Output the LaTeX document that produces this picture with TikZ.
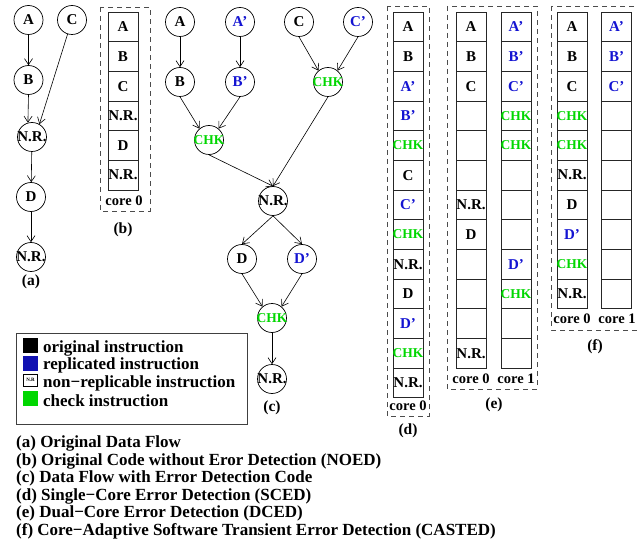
\documentclass[tikz,border=0pt]{standalone}
\usepackage{fontspec}
\setmainfont{Liberation Serif}
\usetikzlibrary{arrows.meta}
\definecolor{rblue}{RGB}{20,20,210}
\definecolor{cgreen}{RGB}{0,215,0}
\newcommand{\Bl}[1]{\textcolor{rblue}{#1}}
\newcommand{\Ck}{\makebox[0pt]{\fontsize{13.5}{15}\selectfont\textcolor{cgreen}{CHK}}}
\newcommand{\NR}{\makebox[0pt]{N.R.}}
\newcommand{\Em}{\mbox{}}
\begin{document}
\begin{tikzpicture}[x=1pt,y=-1pt,
  font=\bfseries\fontsize{15}{17}\selectfont,
  circ/.style={circle,draw,line width=0.7pt,minimum size=29pt,inner sep=0pt},
  cell/.style={rectangle,draw=black!85,line width=0.8pt,minimum width=30pt,minimum height=29.67pt,inner sep=0pt},
  arr/.style={-{Straight Barb[length=6pt,width=8pt]},line width=0.6pt},
  dbox/.style={draw=black!70,dash pattern=on 5pt off 4pt,line width=0.9pt},
  core/.style={font=\bfseries\fontsize{14.5}{16}\selectfont},
  lab/.style={font=\bfseries\fontsize{15.5}{17}\selectfont},
  big/.style={font=\bfseries\fontsize{17}{18}\selectfont,anchor=west,inner sep=0pt},
  sq/.style={rectangle,minimum width=15pt,minimum height=15pt,inner sep=0pt}]
\fill[white] (0,0) rectangle (637,548);
\useasboundingbox (0,0) rectangle (637,548);

% ---------- (a)
\node[circ] (aA) at (28.5,20) {A};
\node[circ] (aC) at (72,20) {C};
\node[circ] (aB) at (28.5,80) {B};
\node[circ] (aN1) at (32,137) {\NR};
\node[circ] (aD) at (31,197) {D};
\node[circ] (aN2) at (31,257) {\NR};
\draw[arr] (aA) -- (aB);
\draw[arr] (aB.south) -- (aN1.106);
\draw[arr] (aC) -- (aN1.60);
\draw[arr] (aN1) -- (aD);
\draw[arr] (aD) -- (aN2);
\node[lab] (la) at (31,282) {(a)};

% ---------- (b)
\draw[dbox] (100,7) rectangle (150,211);
\foreach \t [count=\i] in {A,B,C,N.R.,D,N.R.}
  \node[cell] (b\i) at (123,{12+29.67*(\i-0.5)}) {\makebox[0pt]{\t}};
\node[core] (bc) at (124,201) {core 0};
\node[lab] (lb) at (123,230) {(b)};

% ---------- (c)
\node[circ] (cA) at (180,22) {A};
\node[circ] (cA2) at (240,22) {\Bl{A’}};
\node[circ] (cC) at (299,22) {C};
\node[circ] (cC2) at (358,22) {\Bl{C’}};
\node[circ] (cB) at (180,82) {B};
\node[circ] (cB2) at (240,82) {\Bl{B’}};
\node[circ] (cK1) at (328,82) {\Ck};
\node[circ] (cK2) at (209,140) {\Ck};
\node[circ] (cN) at (273,201) {\NR};
\node[circ] (cD) at (242,259) {D};
\node[circ] (cD2) at (302,259) {\Bl{D’}};
\node[circ] (cK3) at (272,318) {\Ck};
\node[circ] (cN2) at (272,379) {\NR};
\draw[arr] (cA) -- (cB);
\draw[arr] (cA2) -- (cB2);
\draw[arr] (cC.south) -- (cK1.130);
\draw[arr] (cC2.south) -- (cK1.50);
\draw[arr] (cB.south) -- (cK2.130);
\draw[arr] (cB2.south) -- (cK2.50);
\draw[arr] (cK2.south) -- (cN.north);
\draw[arr] (cK1.south) -- (cN.north);
\draw[arr] (cN.south) -- (cD.north);
\draw[arr] (cN.south) -- (cD2.north);
\draw[arr] (cD.south) -- (cK3.130);
\draw[arr] (cD2.south) -- (cK3.50);
\draw[arr] (cK3) -- (cN2);
\node[lab] (lc) at (272,408) {(c)};

% ---------- (d)
\draw[dbox] (387,6) rectangle (429,416);
\foreach \t [count=\i] in {A,B,\Bl{A’},\Bl{B’},\Ck,C,\Bl{C’},\Ck,N.R.,D,\Bl{D’},\Ck,N.R.}
  \node[cell] (d\i) at (408,{12+29.67*(\i-0.5)}) {\makebox[0pt]{\t}};
\node[core] (dc) at (408,406) {core 0};
\node[lab] (ld) at (408,431) {(d)};

% ---------- (e)
\draw[dbox] (447,6) rectangle (537,389);
\foreach \t [count=\i] in {A,B,C,\Em,\Em,\Em,N.R.,D,\Em,\Em,\Em,N.R.}
  \node[cell] (eL\i) at (471,{12+29.67*(\i-0.5)}) {\makebox[0pt]{\t}};
\foreach \t [count=\i] in {\Bl{A’},\Bl{B’},\Bl{C’},\Ck,\Ck,\Em,\Em,\Em,\Bl{D’},\Ck,\Em,\Em}
  \node[cell] (eR\i) at (516,{12+29.67*(\i-0.5)}) {\makebox[0pt]{\t}};
\node[core] (ec0) at (471,379) {core 0};
\node[core] (ec1) at (516,379) {core 1};
\node[lab] (le) at (494,405) {(e)};

% ---------- (f)
\draw[dbox] (551,6) rectangle (642,330);
\foreach \t [count=\i] in {A,B,C,\Ck,\Ck,N.R.,D,\Bl{D’},\Ck,N.R.}
  \node[cell] (fL\i) at (572,{12+29.67*(\i-0.5)}) {\makebox[0pt]{\t}};
\foreach \t [count=\i] in {\Bl{A’},\Bl{B’},\Bl{C’},\Em,\Em,\Em,\Em,\Em,\Em,\Em}
  \node[cell] (fR\i) at (616.5,{12+29.67*(\i-0.5)}) {\makebox[0pt]{\t}};
\node[core] (fc0) at (572,319) {core 0};
\node[core] (fc1) at (617,319) {core 1};
\node[lab] (lf) at (595,347) {(f)};

% ---------- legend
\draw[draw=black!75,line width=0.8pt] (16,333) rectangle (247,424);
\node[sq,fill=black] (k1) at (30.5,345.5) {};
\node[sq,fill=rblue!85!black] (k2) at (30.5,363) {};
\node[rectangle,draw,line width=0.5pt,minimum width=14pt,minimum height=12pt,inner sep=0pt,font=\bfseries\fontsize{5}{6}\selectfont] (k3) at (30.5,380) {N.R};
\node[sq,fill=cgreen] (k4) at (30.5,398) {};
\node[big] (t1) at (43,348) {original instruction};
\node[big] (t2) at (43,365.5) {replicated instruction};
\node[big] (t3) at (43,383) {non−replicable instruction};
\node[big] (t4) at (43,400.5) {check instruction};

% ---------- captions
\node[big] (c1) at (16,443.3) {(a) Original Data Flow};
\node[big] (c2) at (16,461) {(b) Original Code without Eror Detection (NOED)};
\node[big] (c3) at (16,478.3) {(c) Data Flow with Error Detection Code};
\node[big] (c4) at (16,496) {(d) Single−Core Error Detection (SCED)};
\node[big] (c5) at (16,513.3) {(e) Dual−Core Error Detection (DCED)};
\node[big] (c6) at (16,531) {(f) Core−Adaptive Software Transient Error Detection (CASTED)};
\end{tikzpicture}
\end{document}
